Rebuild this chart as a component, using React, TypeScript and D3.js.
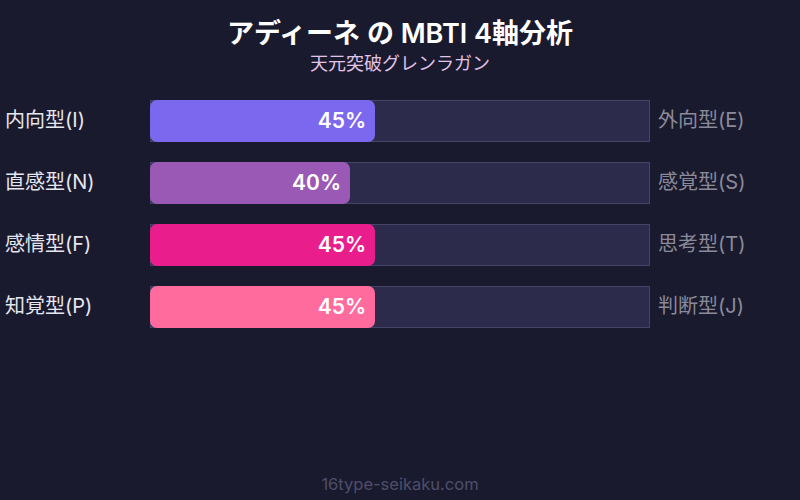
import React from "react";
import * as d3 from "d3";

const leftLabels = ["内向型(I)", "直感型(N)", "感情型(F)", "知覚型(P)"];
const rightLabels = ["外向型(E)", "感覚型(S)", "思考型(T)", "判断型(J)"];
const values = [45, 40, 45, 45];
const colors = ["#7b68ee", "#9b59b6", "#e91e8c", "#ff6b9d"];

const W = 800, H = 500;
const FONT = "Inter, 'Noto Sans CJK JP', sans-serif";

export default function App() {
  const x = d3.scaleLinear().domain([0, 100]).range([150, 650]);
  const bh = 42;
  const y = d3.scaleLinear().domain([0, 1]).range([100, 162]);
  return (
    <svg width={W} height={H} style={{ position: "absolute", left: 0, top: 0, fontFamily: FONT }}>
      <rect width={W} height={H} fill="#1a1a2e" />
      <text x={400} y={43} textAnchor="middle" fill="#ffffff" fontSize={27} fontWeight={600}>アディーネ の MBTI 4軸分析</text>
      <text x={400} y={70} textAnchor="middle" fill="#e0c4e8" fontSize={18}>天元突破グレンラガン</text>
      {values.map((v, i) => {
        const yy = y(i);
        return (
          <g key={i}>
            <rect x={x(0) + 0.5} y={yy + 0.5} width={x(100) - x(0) - 1} height={bh - 1} fill="#2d2b4b" stroke="#45456a" strokeWidth={1} />
            <rect x={x(0)} y={yy} width={x(v) - x(0)} height={bh} rx={7} fill={colors[i]} />
            <text x={x(v) - 9} y={yy + bh / 2} dy="0.35em" textAnchor="end" fill="#ffffff" fontSize={21} fontWeight={600}>{v}%</text>
            <text x={5} y={yy + bh / 2 - 1} dy="0.35em" fill="#e6e6ee" fontSize={20}>{leftLabels[i]}</text>
            <text x={658} y={yy + bh / 2 - 1} dy="0.35em" fill="#8a8a9a" fontSize={20}>{rightLabels[i]}</text>
          </g>
        );
      })}
      <text x={400} y={490} textAnchor="middle" fill="#4e4e6a" fontSize={16.5}>16type-seikaku.com</text>
    </svg>
  );
}
